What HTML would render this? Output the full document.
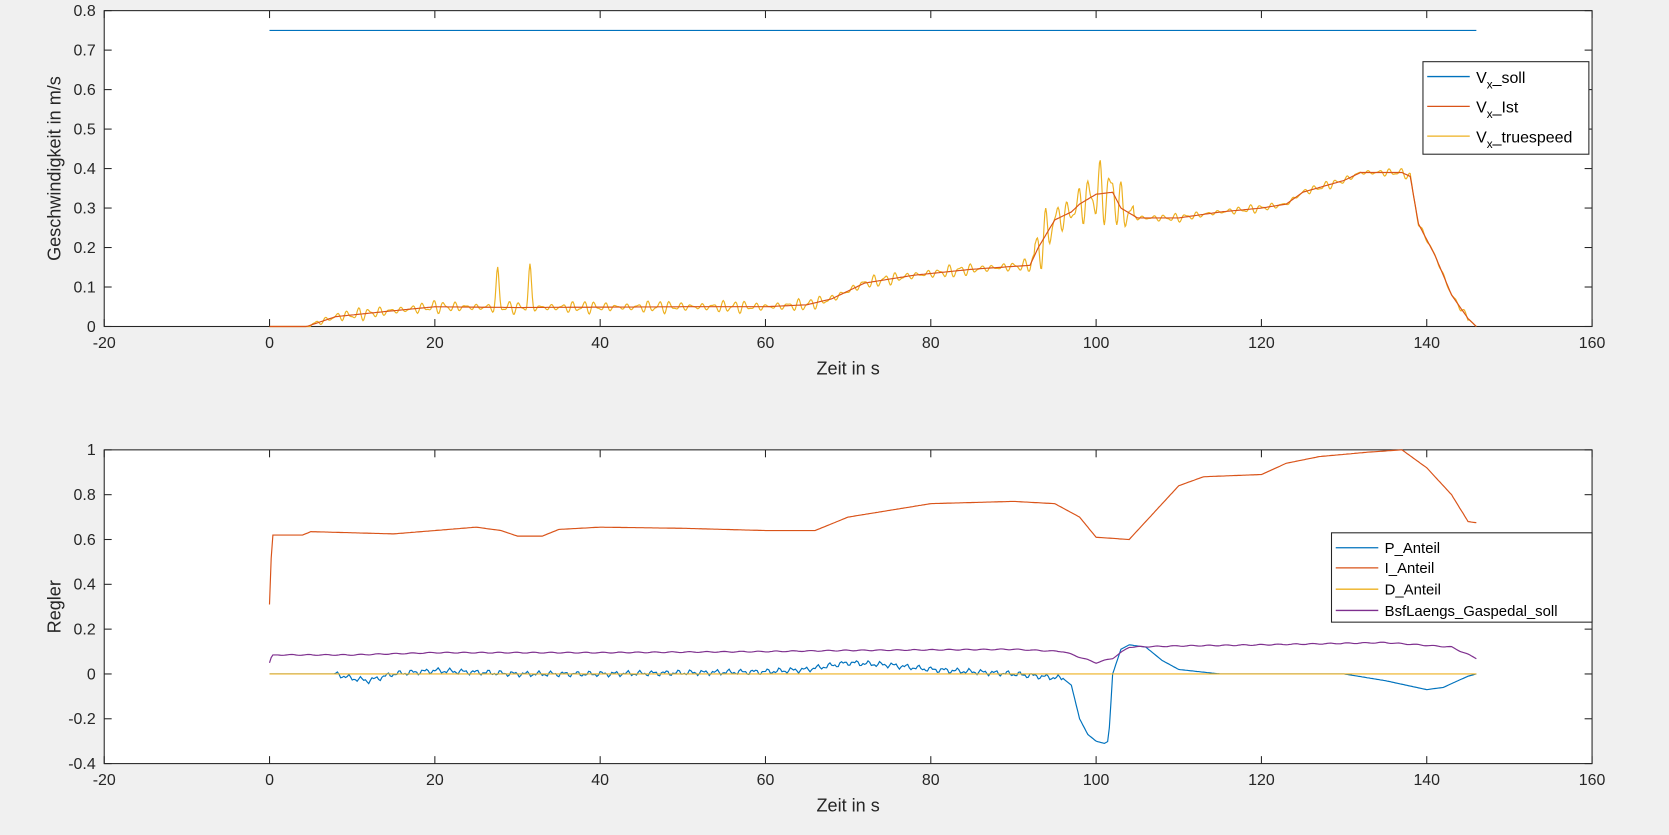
<!DOCTYPE html>
<html><head><meta charset="utf-8"><style>
body{margin:0;background:#f0f0f0;}
svg{display:block;font-family:"Liberation Sans",Arial,sans-serif;}
</style></head><body>
<svg id="s" width="1669" height="835" xmlns="http://www.w3.org/2000/svg"><g id="g" transform="scale(1.0635)"></g></svg>
<script>
const s=document.getElementById('g');const NS='http://www.w3.org/2000/svg';
function el(t,a,txt){const e=document.createElementNS(NS,t);for(const k in a)e.setAttribute(k,a[k]);if(txt!==undefined)e.textContent=txt;s.appendChild(e);return e;}
const X0=98,X1=1497;const xp=t=>X0+(t+20)/180*(X1-X0);
function interp(k,t){if(t<=k[0][0])return k[0][1];for(let i=1;i<k.length;i++){if(t<=k[i][0]){const a=k[i-1],b=k[i];return a[1]+(b[1]-a[1])*(t-a[0])/(b[0]-a[0]);}}return k[k.length-1][1];}
function axes(top,bot,ymin,ymax,step,ylabel,fmt){
 el('rect',{x:X0,y:top,width:X1-X0,height:bot-top,fill:'#fff',stroke:'#262626','stroke-width':1});
 const yp=v=>bot-(v-ymin)/(ymax-ymin)*(bot-top);
 for(let t=-20;t<=160;t+=20){const x=xp(t);el('line',{x1:x,x2:x,y1:bot,y2:bot-7,stroke:'#262626'});el('line',{x1:x,x2:x,y1:top,y2:top+7,stroke:'#262626'});el('text',{x:x,y:bot+20,'text-anchor':'middle','font-size':15,fill:'#262626'},t);}
 for(let v=ymin;v<=ymax+1e-9;v+=step){const y=yp(v);el('line',{x1:X0,x2:X0+7,y1:y,y2:y,stroke:'#262626'});el('line',{x1:X1,x2:X1-7,y1:y,y2:y,stroke:'#262626'});el('text',{x:X0-8,y:y+5,'text-anchor':'end','font-size':15,fill:'#262626'},fmt(v));}
 el('text',{x:(X0+X1)/2,y:bot+45,'text-anchor':'middle','font-size':17,fill:'#262626'},'Zeit in s');
 const cy=(top+bot)/2;el('text',{x:0,y:0,transform:`translate(${X0-41},${cy}) rotate(-90)`,'text-anchor':'middle','font-size':17,fill:'#262626'},ylabel);
 return yp;}
function line(f,t0,t1,dt,yp,col){let d='';for(let t=t0;t<=t1+1e-9;t+=dt){d+=(d?'L':'M')+xp(t).toFixed(1)+','+yp(f(t)).toFixed(1);}el('path',{d:d,fill:'none',stroke:col,'stroke-width':1.1});}
const fmt1=v=>{v=Math.round(v*10)/10;return v===0?'0':String(v);};
const yp1=axes(10,307,0,0.8,0.1,'Geschwindigkeit in m/s',fmt1);
const ist=[[0,0],[4.5,0],[8,0.025],[15,0.04],[20,0.05],[30,0.048],[50,0.05],[60,0.05],[65,0.055],[68,0.07],[72,0.11],[78,0.13],[85,0.145],[92,0.155],[93,0.2],[95,0.27],[97,0.29],[98,0.31],[100,0.335],[102,0.34],[103,0.3],[105,0.275],[110,0.275],[115,0.29],[120,0.3],[123,0.31],[125,0.34],[130,0.37],[132,0.39],[137,0.39],[138,0.38],[139,0.26],[141,0.18],[143,0.08],[145,0.02],[146,0]];
line(t=>0.75,0,146,1,yp1,'#0072bd');
function tru(t){let v=interp(ist,t);if(t<4.5||t>145)return v;let a=0.018;if(t>=92.5&&t<104.5)a=0.09;else if(t>104.5&&t<138)a=0.012;else if(t>138)a=0.01;let o=a*(0.65*Math.sin(t*2*Math.PI/1.3)+0.35*Math.sin(t*2*Math.PI/0.83+1))*(0.7+0.3*Math.sin(t*0.7));
 o+=0.09*Math.exp(-Math.pow((t-27.6)/0.25,2))+0.1*Math.exp(-Math.pow((t-31.5)/0.25,2));return Math.max(0,v+o);}
line(tru,0,146,0.1,yp1,'#edb120');
line(t=>interp(ist,t),0,146,0.2,yp1,'#d95319');
el('rect',{x:1338,y:58,width:156,height:87,fill:'#fff',stroke:'#262626'});
[['#0072bd','soll',72],['#d95319','Ist',100],['#edb120','truespeed',128]].forEach(([c,n,y])=>{el('line',{x1:1342,x2:1382,y1:y,y2:y,stroke:c,'stroke-width':1.2});const tx=el('text',{x:1388,y:y+6,'font-size':15,fill:'#000'});tx.innerHTML=`V<tspan font-size="11" dy="5">x</tspan><tspan dy="-5">_${n}</tspan>`;});
const yp2=axes(423,718,-0.4,1,0.2,'Regler',fmt1);
const I=[[0,0.31],[0.3,0.62],[4,0.62],[5,0.635],[10,0.63],[15,0.625],[25,0.655],[28,0.64],[30,0.615],[33,0.615],[35,0.645],[40,0.655],[50,0.65],[60,0.64],[66,0.64],[70,0.7],[75,0.73],[80,0.76],[90,0.77],[95,0.76],[98,0.7],[100,0.61],[104,0.6],[107,0.72],[110,0.84],[113,0.88],[120,0.89],[123,0.94],[127,0.97],[133,0.99],[137,1.0],[140,0.92],[143,0.8],[145,0.68],[146,0.675]];
const P=[[0,0],[8,0],[10,-0.02],[12,-0.03],[15,0],[20,0.015],[30,0.0],[40,0.0],[50,0.005],[60,0.01],[65,0.02],[70,0.05],[75,0.04],[80,0.02],[90,0.0],[96,-0.02],[97,-0.05],[98,-0.2],[99,-0.27],[100,-0.3],[101,-0.31],[101.5,-0.3],[102,0],[103,0.11],[104,0.13],[106,0.12],[108,0.06],[110,0.02],[115,0.0],[130,0],[135,-0.03],[140,-0.07],[142,-0.06],[145,-0.01],[146,0]];
const B=[[0,0.05],[0.3,0.085],[10,0.085],[20,0.095],[40,0.095],[60,0.1],[70,0.105],[90,0.11],[96,0.1],[100,0.05],[102,0.07],[104,0.12],[110,0.125],[120,0.13],[135,0.14],[143,0.12],[146,0.07]];
line(t=>{let v=interp(P,t);if(t>8&&t<96)v+=0.008*Math.sin(t*4.1)+0.006*Math.sin(t*9.3);return v;},0,146,0.2,yp2,'#0072bd');
line(t=>interp(I,t),0,146,0.2,yp2,'#d95319');
line(t=>0,0,146,1,yp2,'#edb120');
line(t=>interp(B,t)+(t>1?0.002*Math.sin(t*3):0),0,146,0.2,yp2,'#7e2f8e');
el('rect',{x:1252,y:501,width:245,height:84,fill:'#fff',stroke:'#262626'});
[['#0072bd','P_Anteil',515],['#d95319','I_Anteil',534],['#edb120','D_Anteil',554],['#7e2f8e','BsfLaengs_Gaspedal_soll',574]].forEach(([c,n,y])=>{el('line',{x1:1256,x2:1296,y1:y,y2:y,stroke:c,'stroke-width':1.2});el('text',{x:1302,y:y+5,'font-size':14,fill:'#000'},n);});
</script>
</body></html>
